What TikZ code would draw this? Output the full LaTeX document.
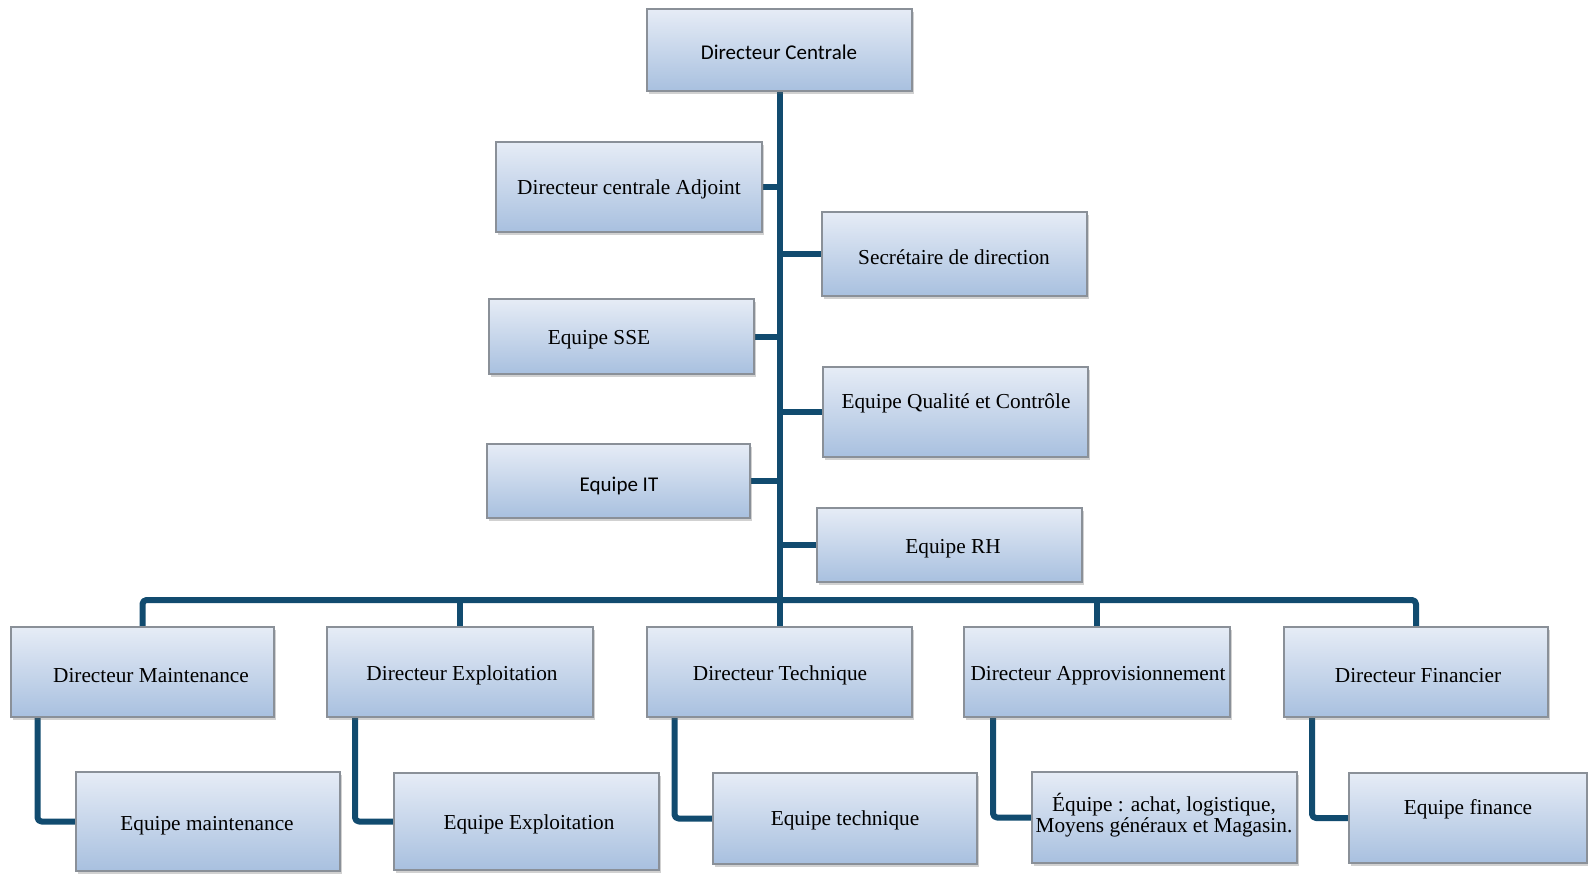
\documentclass[tikz,border=0pt]{standalone}
\usepackage{fontspec}
\setmainfont{Liberation Serif}
\newfontfamily\calib{Carlito}
\usetikzlibrary{fit,shadows}
\definecolor{conncol}{HTML}{114B6F}
\definecolor{boxtop}{HTML}{E6ECF6}
\definecolor{boxbot}{HTML}{A8C0DF}
\definecolor{boxline}{HTML}{8A9098}
\pgfdeclarelayer{bg}
\pgfsetlayers{bg,main}
\tikzset{
  orgbox/.style={draw=boxline, line width=1.3pt, top color=boxtop, bottom color=boxbot,
    inner sep=0pt, drop shadow={shadow xshift=2pt, shadow yshift=-3pt, opacity=0.3, fill=black!60}},
  lbl/.style={inner sep=0pt, yshift=-2.5pt, font=\fontsize{21.3}{21}\selectfont, text=black, align=center},
  lblsans/.style={lbl, font=\calib\fontsize{21}{21}\selectfont},
  conn/.style={draw=conncol, line width=6pt, line join=round, rounded corners=4pt}
}
\newcommand{\obox}[5]{\node[orgbox, fit={(#2,#3) (#4,#5)}] (#1) {};}
\begin{document}
\begin{tikzpicture}[x=1pt,y=-1pt]
\useasboundingbox (0,0) rectangle (1588,873);
% boxes
\obox{dc}{647}{9}{912}{91}
\obox{adj}{496}{142}{762}{232}
\obox{sec}{822}{212}{1087}{296}
\obox{sse}{489}{299}{754}{374}
\obox{qc}{823}{367}{1088}{457}
\obox{it}{487}{444}{750}{518}
\obox{rh}{817}{508}{1082}{582}
\obox{dm}{11}{627}{274}{717}
\obox{de}{327}{627}{593}{717}
\obox{dt}{647}{627}{912}{717}
\obox{da}{964}{627}{1230}{717}
\obox{df}{1284}{627}{1548}{717}
\obox{em}{76}{772}{340}{871}
\obox{ee}{394}{773}{659}{870}
\obox{et}{713}{773}{977}{864}
\obox{ea}{1032}{772}{1297}{863}
\obox{ef}{1349}{773}{1587}{863}
% labels
\node[lblsans] (tdc) at (779,50) {Directeur Centrale};
\node[lbl] (tadj) at (629,187) {Directeur centrale Adjoint};
\node[lbl] (tsec) at (954,255) {Secrétaire de direction};
\node[lbl] (tsse) at (599,337) {Equipe SSE};
\node[lbl] (tqc) at (956,401) {Equipe Qualité et Contrôle};
\node[lblsans] (tit) at (619,483) {Equipe IT};
\node[lbl] (trh) at (953,546) {Equipe RH};
\node[lbl] (tdm) at (151,673) {Directeur Maintenance};
\node[lbl] (tde) at (462,673) {Directeur Exploitation};
\node[lbl] (tdt) at (780,673) {Directeur Technique};
\node[lbl] (tda) at (1098,673) {Directeur Approvisionnement};
\node[lbl] (tdf) at (1418,673) {Directeur Financier};
\node[lbl] (tem) at (207,823) {Equipe maintenance};
\node[lbl] (tee) at (529,822) {Equipe Exploitation};
\node[lbl] (tet) at (845,818) {Equipe technique};
\node[lbl] (tea) at (1164,813) {Équipe : achat, logistique,\\Moyens généraux et Magasin.};
\node[lbl] (tef) at (1468,807) {Equipe finance};
\coordinate (bus) at (780,600);
% connectors
\begin{pgfonlayer}{bg}
\draw[conn] (dc.south) -- (dt.north);
\draw[conn] (adj.east) -- (adj.east -| dc.south);
\draw[conn] (sec.west) -- (sec.west -| dc.south);
\draw[conn] (sse.east) -- (sse.east -| dc.south);
\draw[conn] (qc.west) -- (qc.west -| dc.south);
\draw[conn] (it.east) -- (it.east -| dc.south);
\draw[conn] (rh.west) -- (rh.west -| dc.south);
\draw[conn] (dm.north) |- (bus) -| (df.north);
\draw[conn] (de.north) -- (de.north |- bus);
\draw[conn] (da.north) -- (da.north |- bus);
\draw[conn] ([xshift=-105pt]dm.south) |- (em.west);
\draw[conn] ([xshift=-105pt]de.south) |- (ee.west);
\draw[conn] ([xshift=-105pt]dt.south) |- (et.west);
\draw[conn] ([xshift=-104pt]da.south) |- (ea.west);
\draw[conn] ([xshift=-104pt]df.south) |- (ef.west);
\end{pgfonlayer}
\end{tikzpicture}
\end{document}
